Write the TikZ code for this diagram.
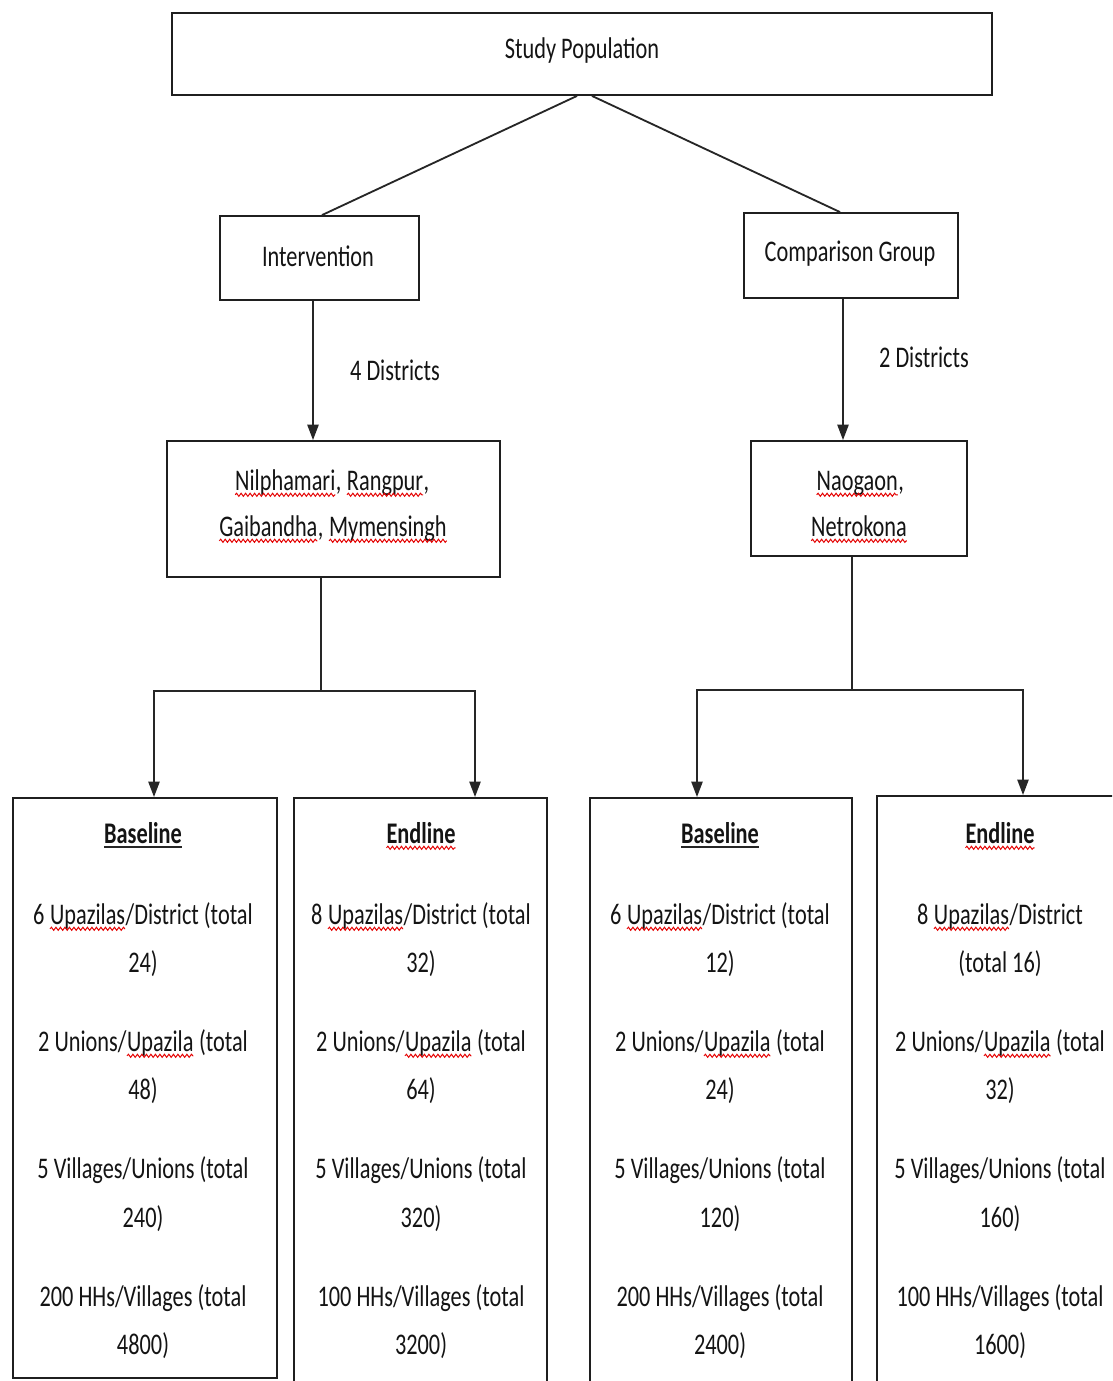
\documentclass[tikz,border=0pt]{standalone}
\usepackage{fontspec}
\setmainfont{Carlito}[FakeStretch=0.745]
\usetikzlibrary{arrows.meta,calc,decorations.pathmorphing}
\newcommand\sq[1]{\tikz[baseline=(sqw.base)]{\node[inner sep=0pt,outer sep=0pt] (sqw) {#1};
  \draw[red!90!black, line width=0.7pt, decorate, decoration={snake, amplitude=1.1pt, segment length=3.2pt}]
    ([yshift=-3.4pt]sqw.base west) -- ([yshift=-3.4pt]sqw.base east);}}
\newcommand\ulb[1]{\tikz[baseline=(ulw.base)]{\node[inner sep=0pt,outer sep=0pt] (ulw) {#1};
  \draw[black!85, line width=1.4pt] ([yshift=-3pt]ulw.base west) -- ([yshift=-3pt]ulw.base east);}}
\tikzset{
  box/.style={draw=black!88, line width=1.3pt, rectangle, inner sep=0pt},
  txt/.style={inner sep=0pt, anchor=base, font=\fontsize{21.3pt}{34pt}\selectfont, text=black!92},
  ln/.style={draw=black!85, line width=1.3pt},
  arr/.style={ln, -{Triangle[length=11pt,width=8pt]}}
}
\begin{document}
\begin{tikzpicture}[x=0.025cm, y=-0.025cm]
\useasboundingbox (0,0) rectangle (1112,1381);
\clip (0,0) rectangle (1112,1381);
\fill[white] (0,0) rectangle (1112,1381);

% top boxes
\node[box, minimum width=20.5cm, minimum height=2.05cm] (sp) at (582,54) {};
\node[txt] (tsp) at (582,58) {Study Population};
\node[box, minimum width=4.975cm, minimum height=2.1cm] (int) at (319.5,258) {};
\node[txt] (tint) at (318,266) {Intervention};
\node[box, minimum width=5.35cm, minimum height=2.125cm] (cmp) at (851,255.5) {};
\node[txt] (tcmp) at (850,261) {Comparison Group};

\node[box, minimum width=8.325cm, minimum height=3.4cm] (nil) at (333.5,509) {};
\node[txt] (tnil1) at (332,490) {\sq{Nilphamari}, \sq{Rangpur},};
\node[txt] (tnil2) at (333,536) {\sq{Gaibandha}, \sq{Mymensingh}};
\node[box, minimum width=5.4cm, minimum height=2.875cm] (nao) at (859,498.5) {};
\node[txt] (tnao1) at (860,490) {\sq{Naogaon},};
\node[txt] (tnao2) at (859,536) {\sq{Netrokona}};

\node[txt] (l4) at (395,380) {4 Districts};
\node[txt] (l2) at (924,367) {2 Districts};

% bottom boxes
\node[box, minimum width=6.6cm, minimum height=14.5cm] (b1) at (145,1088) {};
\node[box, minimum width=6.325cm, minimum height=15.05cm] (b2) at (420.5,1099) {};
\node[box, minimum width=6.55cm, minimum height=15.05cm] (b3) at (721,1099) {};
\node[box, minimum width=6.575cm, minimum height=15.1cm] (b4) at (1008.5,1098) {};

% connectors
\draw[ln] ($(sp.south)+(-5,0)$) -- ($(int.north)+(2.5,0)$);
\draw[ln] ($(sp.south)+(10,0)$) -- ($(cmp.north)+(-11,0)$);
\coordinate (a1) at ($(int.south)+(-6.5,0)$);
\draw[arr] (a1) -- (a1 |- nil.north);
\coordinate (a2) at ($(cmp.south)+(-8,0)$);
\draw[arr] (a2) -- (a2 |- nao.north);

\coordinate (j1) at ($(nil.south)+(-12.5,0)$);
\coordinate (h1) at (321,691);
\coordinate (c1) at ($(b1.north)+(9,0)$);
\coordinate (c2) at ($(b2.north)+(54.5,0)$);
\draw[ln] (j1) -- (h1);
\draw[arr] (h1) -| (c1);
\draw[arr] (h1) -| (c2);

\coordinate (j2) at ($(nao.south)+(-7,0)$);
\coordinate (h2) at (852,690);
\coordinate (c3) at ($(b3.north)+(-24,0)$);
\coordinate (c4) at ($(b4.north)+(14.5,0)$);
\draw[ln] (j2) -- (h2);
\draw[arr] (h2) -| (c3);
\draw[arr] (h2) -| (c4);

% texts of box 1
\node[txt] (t10) at (143,843) {\textbf{\ulb{Baseline}}};
\node[txt] (t11) at (143,924) {6 \sq{Upazilas}/District (total};
\node[txt] (t12) at (143,972) {24)};
\node[txt] (t13) at (143,1051) {2 Unions/\sq{Upazila} (total};
\node[txt] (t14) at (143,1099) {48)};
\node[txt] (t15) at (143,1178) {5 Villages/Unions (total};
\node[txt] (t16) at (143,1227) {240)};
\node[txt] (t17) at (143,1306) {200 HHs/Villages (total};
\node[txt] (t18) at (143,1354) {4800)};

% texts of box 2
\node[txt] (t20) at (421,843) {\textbf{\sq{Endline}}};
\node[txt] (t21) at (421,924) {8 \sq{Upazilas}/District (total};
\node[txt] (t22) at (421,972) {32)};
\node[txt] (t23) at (421,1051) {2 Unions/\sq{Upazila} (total};
\node[txt] (t24) at (421,1099) {64)};
\node[txt] (t25) at (421,1178) {5 Villages/Unions (total};
\node[txt] (t26) at (421,1227) {320)};
\node[txt] (t27) at (421,1306) {100 HHs/Villages (total};
\node[txt] (t28) at (421,1354) {3200)};

% texts of box 3
\node[txt] (t30) at (720,843) {\textbf{\ulb{Baseline}}};
\node[txt] (t31) at (720,924) {6 \sq{Upazilas}/District (total};
\node[txt] (t32) at (720,972) {12)};
\node[txt] (t33) at (720,1051) {2 Unions/\sq{Upazila} (total};
\node[txt] (t34) at (720,1099) {24)};
\node[txt] (t35) at (720,1178) {5 Villages/Unions (total};
\node[txt] (t36) at (720,1227) {120)};
\node[txt] (t37) at (720,1306) {200 HHs/Villages (total};
\node[txt] (t38) at (720,1354) {2400)};

% texts of box 4
\node[txt] (t40) at (1000,843) {\textbf{\sq{Endline}}};
\node[txt] (t41) at (1000,924) {8 \sq{Upazilas}/District};
\node[txt] (t42) at (1000,972) {(total 16)};
\node[txt] (t43) at (1000,1051) {2 Unions/\sq{Upazila} (total};
\node[txt] (t44) at (1000,1099) {32)};
\node[txt] (t45) at (1000,1178) {5 Villages/Unions (total};
\node[txt] (t46) at (1000,1227) {160)};
\node[txt] (t47) at (1000,1306) {100 HHs/Villages (total};
\node[txt] (t48) at (1000,1354) {1600)};
\end{tikzpicture}
\end{document}
